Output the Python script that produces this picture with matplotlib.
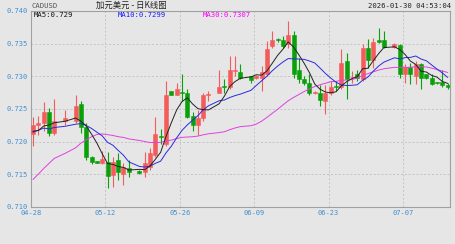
import matplotlib.pyplot as plt
import pandas as pd

# daily candles, CAD/USD
dates = ["04-28", "04-29", "04-30", "05-01", "05-02", "05-04", "05-06", "05-07", "05-08", "05-09",
         "05-10", "05-11", "05-12", "05-13", "05-14", "05-15", "05-16", "05-18", "05-19", "05-20",
         "05-21", "05-22", "05-23", "05-24", "05-25", "05-26", "05-27", "05-28", "05-29", "05-30",
         "05-31", "06-02", "06-03", "06-04", "06-05", "06-06", "06-08", "06-09", "06-10", "06-11",
         "06-12", "06-13", "06-14", "06-15", "06-16", "06-17", "06-18", "06-19", "06-20", "06-21",
         "06-22", "06-23", "06-24", "06-25", "06-26", "06-27", "06-28", "06-29", "06-30", "07-01",
         "07-02", "07-03", "07-05", "07-06", "07-07", "07-08", "07-09", "07-10", "07-11", "07-12",
         "07-13", "07-14", "07-15"]
opens = [0.7211, 0.7225, 0.7228, 0.7245, 0.7213, 0.7231, 0.7232, 0.7258, 0.7222, 0.7176,
         0.7170, 0.7167, 0.7169, 0.7149, 0.7172, 0.7150, 0.7159, 0.7155, 0.7153, 0.7161,
         0.7179, 0.7209, 0.7197, 0.7277, 0.7272, 0.7276, 0.7275, 0.7239, 0.7225, 0.7236,
         0.7271, 0.7274, 0.7285, 0.7284, 0.7308, 0.7307, 0.7300, 0.7298, 0.7298, 0.7304,
         0.7347, 0.7357, 0.7356, 0.7350, 0.7363, 0.7309, 0.7296, 0.7290, 0.7274, 0.7275,
         0.7263, 0.7275, 0.7285, 0.7283, 0.7324, 0.7299, 0.7304, 0.7296, 0.7344, 0.7325,
         0.7355, 0.7356, 0.7345, 0.7348, 0.7304, 0.7315, 0.7301, 0.7319, 0.7303, 0.7298,
         0.7291, 0.7292, 0.7286]
highs = [0.7237, 0.7240, 0.7260, 0.7251, 0.7266, 0.7249, 0.7271, 0.7263, 0.7229, 0.7178,
         0.7171, 0.7185, 0.7184, 0.7176, 0.7182, 0.7167, 0.7172, 0.7157, 0.7184, 0.7190,
         0.7237, 0.7220, 0.7293, 0.7278, 0.7290, 0.7304, 0.7280, 0.7245, 0.7248, 0.7274,
         0.7278, 0.7309, 0.7296, 0.7331, 0.7331, 0.7319, 0.7301, 0.7302, 0.7316, 0.7354,
         0.7370, 0.7358, 0.7362, 0.7385, 0.7370, 0.7328, 0.7301, 0.7304, 0.7277, 0.7286,
         0.7286, 0.7293, 0.7293, 0.7342, 0.7336, 0.7308, 0.7309, 0.7350, 0.7357, 0.7359,
         0.7374, 0.7370, 0.7351, 0.7350, 0.7319, 0.7321, 0.7324, 0.7321, 0.7304, 0.7304,
         0.7292, 0.7309, 0.7290]
lows = [0.7193, 0.7210, 0.7217, 0.7208, 0.7210, 0.7225, 0.7228, 0.7214, 0.7172, 0.7166,
        0.7167, 0.7166, 0.7129, 0.7130, 0.7141, 0.7134, 0.7146, 0.7151, 0.7146, 0.7156,
        0.7176, 0.7197, 0.7194, 0.7271, 0.7271, 0.7263, 0.7236, 0.7217, 0.7210, 0.7232,
        0.7263, 0.7274, 0.7275, 0.7281, 0.7301, 0.7296, 0.7290, 0.7296, 0.7278, 0.7300,
        0.7344, 0.7353, 0.7344, 0.7344, 0.7298, 0.7290, 0.7286, 0.7271, 0.7273, 0.7255,
        0.7243, 0.7271, 0.7278, 0.7281, 0.7266, 0.7290, 0.7293, 0.7293, 0.7313, 0.7313,
        0.7351, 0.7344, 0.7344, 0.7298, 0.7290, 0.7289, 0.7289, 0.7281, 0.7296, 0.7286,
        0.7289, 0.7283, 0.7281]
closes = [0.7225, 0.7229, 0.7246, 0.7213, 0.7232, 0.7236, 0.7254, 0.7222, 0.7176, 0.7169,
          0.7168, 0.7173, 0.7147, 0.7169, 0.7153, 0.7161, 0.7153, 0.7152, 0.7167, 0.7182,
          0.7211, 0.7207, 0.7272, 0.7272, 0.7280, 0.7275, 0.7237, 0.7225, 0.7236, 0.7272,
          0.7273, 0.7284, 0.7284, 0.7310, 0.7309, 0.7298, 0.7295, 0.7300, 0.7307, 0.7342,
          0.7356, 0.7355, 0.7347, 0.7363, 0.7304, 0.7296, 0.7290, 0.7275, 0.7276, 0.7264,
          0.7275, 0.7284, 0.7283, 0.7321, 0.7296, 0.7299, 0.7298, 0.7344, 0.7325, 0.7353,
          0.7353, 0.7345, 0.7350, 0.7304, 0.7315, 0.7303, 0.7319, 0.7298, 0.7298, 0.7289,
          0.7290, 0.7286, 0.7283]
# closes before 04-28 are off the chart; guessed so the MAs start where the chart shows them
earlier_closes = [0.6985, 0.6990, 0.6978, 0.7002, 0.7010, 0.6995, 0.7008, 0.7020, 0.7035, 0.7060,
                  0.7150, 0.7180, 0.7205, 0.7210, 0.7195, 0.7220, 0.7225, 0.7215, 0.7230, 0.7210,
                  0.7200, 0.7215, 0.7225, 0.7210, 0.7218, 0.7222, 0.7212, 0.7205, 0.7215]
ma_labels = ["MA5:0.729", "MA10:0.7299", "MA30:0.7307"]
tick_dates = ["04-28", "05-12", "05-26", "06-09", "06-23", "07-07"]
yticks = [0.710, 0.715, 0.720, 0.725, 0.730, 0.735, 0.740]

start = pd.Timestamp("2025-04-28")
def day(s):
    return (pd.Timestamp("2025-" + s) - start).days

df = pd.DataFrame({"open": opens, "high": highs, "low": lows, "close": closes})
df["x"] = [day(d) + 0.4 for d in dates]

allc = pd.Series(earlier_closes + closes)
n0 = len(earlier_closes)
ma = {k: allc.rolling(k).mean().iloc[n0:].values for k in (5, 10, 30)}

bg = "#e6e6e6"
blue_txt = "#3f8fd2"
up, down = "#f45c5c", "#0aa00a"

fig = plt.figure(figsize=(4.55, 2.44), dpi=100, facecolor=bg)
ax = fig.add_axes([31 / 455, 37 / 244, 419 / 455, 196 / 244], facecolor=bg)

cols = [up if c >= o else down for o, c in zip(df.open, df.close)]
ax.vlines(df.x, df.low, df.high, colors=cols, lw=0.8, zorder=2)
body = (df.close - df.open).abs().clip(lower=0.00005)
ax.bar(df.x, body, bottom=df[["open", "close"]].min(axis=1), width=0.75,
       color=cols, edgecolor=cols, lw=0.4, zorder=3)

ax.plot(df.x, ma[30], color="#e040e0", lw=0.7, zorder=4)
ax.plot(df.x, ma[10], color="#2a2ae0", lw=0.7, zorder=4)
ax.plot(df.x, ma[5], color="#222222", lw=0.7, zorder=5)

ax.set_xlim(0, 419 / 5.314)
ax.set_ylim(0.710, 0.740)
ax.set_yticks(yticks)
ax.set_yticklabels([f"{v:.3f}" for v in yticks])
ax.set_xticks([day(d) for d in tick_dates])
ax.set_xticklabels(tick_dates)
ax.tick_params(length=0, pad=2, labelsize=5, labelcolor=blue_txt)
for lab in ax.get_xticklabels() + ax.get_yticklabels():
    lab.set_family("DejaVu Sans Mono")
ax.grid(True, color="#c4c4c4", lw=0.7, ls=(0, (2, 2)))
ax.set_axisbelow(True)
for sp in ax.spines.values():
    sp.set_color("#a0a0a0")
    sp.set_linewidth(0.8)

mono = "DejaVu Sans Mono"
fig.text(32 / 455, 1 - 6 / 244, "CADUSD", fontsize=5.2, family=mono, color="#555555", va="center")
fig.text(131 / 455, 1 - 5.5 / 244, "加元美元 - 日K线图", fontsize=6,
         family=["Noto Sans CJK SC", "DejaVu Sans"], color="#222222", ha="center", va="center")
fig.text(451 / 455, 1 - 6 / 244, "2026-01-30 04:53:04", fontsize=5.2, family=mono,
         color="#222222", ha="right", va="center")
fig.text(34 / 455, 1 - 15 / 244, ma_labels[0], fontsize=5.2, family=mono, color="#111111", va="center")
fig.text(118 / 455, 1 - 15 / 244, ma_labels[1], fontsize=5.2, family=mono, color="#1a1aff", va="center")
fig.text(203 / 455, 1 - 15 / 244, ma_labels[2], fontsize=5.2, family=mono, color="#ff00ff", va="center")

fig.savefig("out.png", dpi=100, facecolor=bg)
